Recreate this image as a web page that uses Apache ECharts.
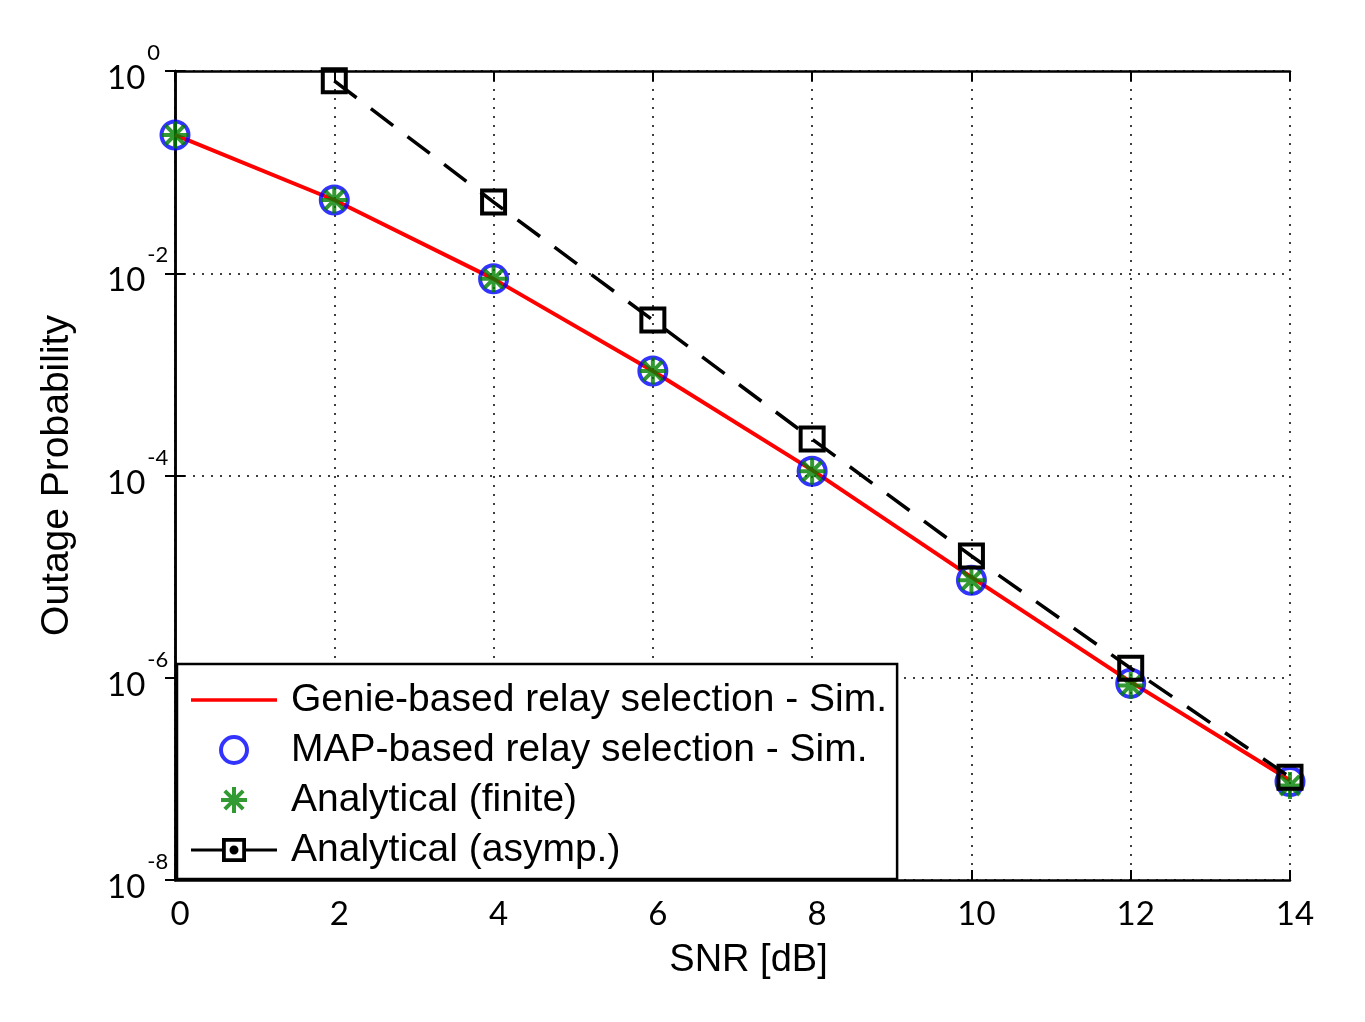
<!DOCTYPE html>
<html>
<head>
<meta charset="utf-8">
<script src="https://cdn.jsdelivr.net/npm/echarts@6/dist/echarts.min.js"></script>
<style>
html,body{margin:0;padding:0;background:#fff;}
#chart{width:1365px;height:1022px;}
</style>
</head>
<body>
<div id="chart"></div>
<script>
// ---- data ----
var snr = [0, 2, 4, 6, 8, 10, 12, 14];
var genieSim = [0.233, 0.053, 0.0088, 1.08e-3, 1.13e-4, 9.9e-6, 9.1e-7, 9.7e-8];
var mapSim = [0.233, 0.053, 0.0088, 1.08e-3, 1.1e-4, 9.2e-6, 8.8e-7, 9.4e-8];
var analyticalFinite = [0.233, 0.053, 0.0088, 1.08e-3, 1.1e-4, 9.2e-6, 8.4e-7, 8.6e-8];
var snrAsymp = [2, 4, 6, 8, 10, 12, 14];
var analyticalAsymp = [0.80, 0.0506, 3.44e-3, 2.29e-4, 1.6e-5, 1.24e-6, 1.04e-7];
var seriesNames = ['Genie-based relay selection - Sim.', 'MAP-based relay selection - Sim.', 'Analytical (finite)', 'Analytical (asymp.)'];
var xTitle = 'SNR [dB]';
var yTitle = 'Outage Probability';

function pairs(xs, ys) { return xs.map(function (x, i) { return [x, ys[i]]; }); }

var asterisk = 'path://M0,-10L0,10M-10,0L10,0M-7.07,-7.07L7.07,7.07M-7.07,7.07L7.07,-7.07';
var lineIcon = 'path://M0,0L86,0L86,3.5L0,3.5Z';
var asympIcon = 'path://M0,11.5L31,11.5L31,14.5L0,14.5Z M31,1L55,1L55,25L31,25Z M34.8,4.8L34.8,21.2L51.2,21.2L51.2,4.8Z M38.5,13A4.5,4.5 0 1,1 47.5,13A4.5,4.5 0 1,1 38.5,13Z M55,11.5L86,11.5L86,14.5L55,14.5Z';
var tickFont = 'Lato';
var textFont = 'Liberation Sans';

var chart = echarts.init(document.getElementById('chart'), null, {renderer: 'canvas'});
var option = {
  backgroundColor: '#fff',
  animation: false,
  grid: {left: 175, top: 71, width: 1115, height: 809, containLabel: false},
  legend: {
    orient: 'vertical',
    left: 177, top: 664,
    padding: [16, 10, 9, 14],
    itemWidth: 86, itemHeight: 26, itemGap: 10,
    backgroundColor: '#fff',
    borderColor: '#000', borderWidth: 2.5, borderRadius: 0,
    textStyle: {fontFamily: textFont, fontSize: 39, color: '#000', lineHeight: 40, padding: [0, 0, 0, 9]},
    data: [
      {name: seriesNames[0], icon: lineIcon, itemStyle: {color: '#ff0000', borderWidth: 0}},
      {name: seriesNames[1], itemStyle: {color: 'rgba(0,0,0,0)', borderColor: '#0000ff', borderWidth: 4}},
      {name: seriesNames[2], itemStyle: {color: 'rgba(0,0,0,0)', borderColor: '#008000', borderWidth: 4}},
      {name: seriesNames[3], icon: asympIcon, itemStyle: {color: '#000', borderWidth: 0}}
    ]
  },
  xAxis: [{
    type: 'value', min: 0, max: 14, interval: 2,
    name: xTitle, nameLocation: 'middle', nameGap: 62,
    nameTextStyle: {fontFamily: textFont, fontSize: 38, color: '#000', padding: [0, 0, 0, 32]},
    axisLine: {lineStyle: {color: '#000', width: 2.5}},
    axisTick: {inside: true, length: 10, lineStyle: {color: '#000', width: 2}},
    axisLabel: {fontFamily: tickFont, fontSize: 33, color: '#000', margin: 18, padding: [0, 0, 0, 10]},
    splitLine: {show: true, lineStyle: {color: '#000', width: 1.5, type: [2, 7]}}
  }, {
    type: 'value', min: 0, max: 14, interval: 2, position: 'top',
    axisLine: {lineStyle: {color: '#000', width: 2.5}},
    axisTick: {inside: true, length: 10, lineStyle: {color: '#000', width: 2}},
    axisLabel: {show: false}, splitLine: {show: false}
  }],
  yAxis: [{
    type: 'log', logBase: 10, min: 1e-8, max: 1, interval: 2,
    name: yTitle, nameLocation: 'middle', nameGap: 98, nameRotate: 90,
    nameTextStyle: {fontFamily: textFont, fontSize: 39, color: '#000'},
    axisLine: {show: true, lineStyle: {color: '#000', width: 2.5}},
    axisTick: {show: true, inside: true, length: 10, lineStyle: {color: '#000', width: 2}},
    minorTick: {show: false},
    axisLabel: {
      margin: 68, color: '#000', align: 'left',
      formatter: function (v) {
        var e = Math.round(Math.log(v) / Math.LN10);
        return '{b|10}{e|' + e + '}';
      },
      rich: {
        b: {fontFamily: tickFont, fontSize: 33, color: '#000', verticalAlign: 'bottom', padding: [0, 0, 5, 0]},
        e: {fontFamily: tickFont, fontSize: 22, color: '#000', verticalAlign: 'top', padding: [0, 0, 36, 2]}
      }
    },
    splitLine: {show: true, lineStyle: {color: '#000', width: 1.5, type: [2, 7]}}
  }, {
    type: 'log', logBase: 10, min: 1e-8, max: 1, interval: 2, position: 'right',
    axisLine: {show: true, lineStyle: {color: '#000', width: 2.5}},
    axisTick: {show: true, inside: true, length: 10, lineStyle: {color: '#000', width: 2}},
    axisLabel: {show: false}, splitLine: {show: false}
  }],
  series: [{
    name: seriesNames[0], type: 'line', data: pairs(snr, genieSim),
    symbol: 'none', lineStyle: {color: '#ff0000', width: 4},
    itemStyle: {color: '#ff0000'}, z: 2
  }, {
    name: seriesNames[1], type: 'scatter', data: pairs(snr, mapSim),
    symbol: 'circle', symbolSize: 27,
    itemStyle: {color: 'rgba(0,0,0,0)', borderColor: '#0000ff', borderWidth: 4}, z: 3
  }, {
    name: seriesNames[2], type: 'scatter', data: pairs(snr, analyticalFinite),
    symbol: asterisk, symbolSize: 27,
    itemStyle: {color: 'rgba(0,0,0,0)', borderColor: '#008000', borderWidth: 4}, z: 4
  }, {
    name: seriesNames[3], type: 'line', data: pairs(snrAsymp, analyticalAsymp),
    symbol: 'rect', symbolSize: 23, showSymbol: true,
    lineStyle: {color: '#000', width: 3.5, type: [28, 18]},
    itemStyle: {color: 'rgba(0,0,0,0)', borderColor: '#000', borderWidth: 4}, z: 5
  }]
};
chart.setOption(option);
</script>
</body>
</html>
